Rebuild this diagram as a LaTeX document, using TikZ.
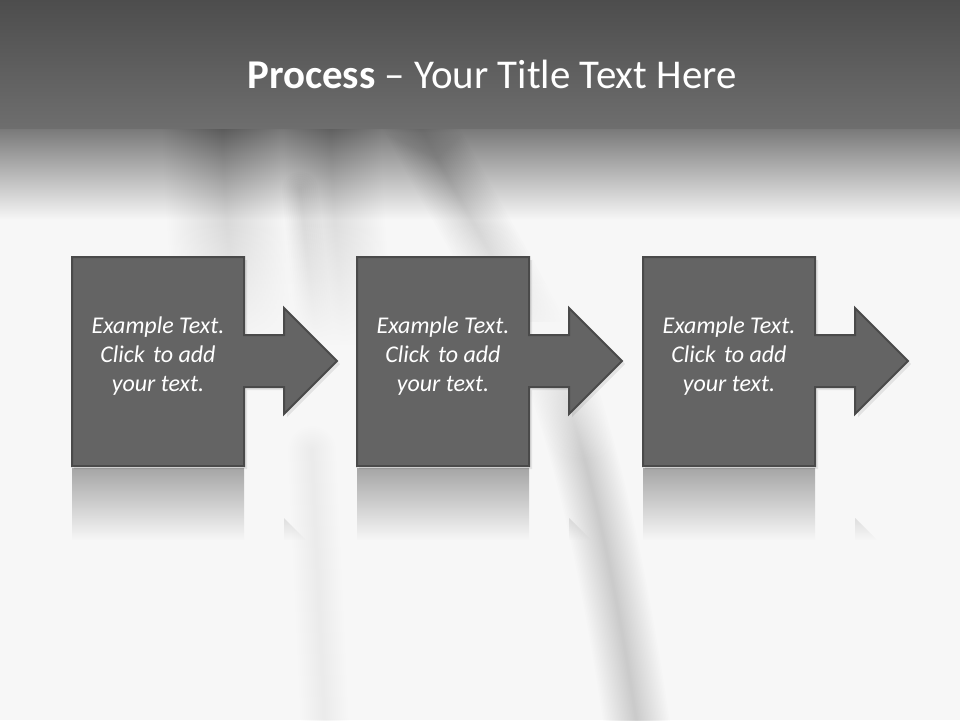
\documentclass[tikz,border=0pt]{standalone}
\usepackage{fontspec}
\setmainfont{Carlito}
\usetikzlibrary{fadings}
\definecolor{bg}{HTML}{F7F7F7}
\definecolor{boxfill}{HTML}{646464}
\definecolor{boxline}{HTML}{4A4A4A}
\definecolor{headtop}{HTML}{4D4D4D}
\definecolor{headbot}{HTML}{6E6E6E}
\definecolor{refltop}{HTML}{A6A6A6}
\tikzfading[name=fadedown, top color=transparent!0, bottom color=transparent!100]
\tikzfading[name=fadeup, top color=transparent!100, bottom color=transparent!0]
\begin{document}
\begin{tikzpicture}[x=1pt,y=-1pt,
  blockshape/.style={fill=boxfill, draw=boxline, line width=2pt, line join=miter},
  bodytext/.style={font=\fontsize{24}{29.3}\selectfont\itshape, align=center, inner sep=0pt, text=white},
  titletext/.style={font=\fontsize{40.9}{48}\selectfont, text=white, inner sep=0pt, anchor=base},
  streak/.style={line cap=round, draw=black}]
\useasboundingbox (0,0) rectangle (960,720);
\fill[bg] (0,0) rectangle (960,720);
% header fade
\shade[top color=headbot!95!white, bottom color=bg] (0,126) rectangle (960,220);
% broad blurred gray region under the header
\foreach \w in {4,8,...,120}
  \draw[streak, opacity=0.0035, line width=\w pt] (222,110) .. controls (224,200) and (230,260) .. (236,340);
\foreach \w in {4,8,...,100}
  \draw[streak, opacity=0.004, line width=\w pt] (330,110) .. controls (332,200) and (338,260) .. (344,340);
\foreach \w in {4,8,...,36}
  \draw[streak, opacity=0.006, line width=\w pt] (300,190) -- (316,340);
% diagonal band, upper part
\foreach \w in {4,8,...,68}
  \draw[streak, opacity=0.006, line width=\w pt] (412,110) .. controls (452,190) and (497,260) .. (542,350);
% let the upper region die away
\fill[bg, path fading=fadeup] (90,222) rectangle (600,345);
\fill[bg] (90,345) rectangle (600,400);
% main streak, lower part
\foreach \w in {3,6,...,66}
  \draw[streak, opacity=0.009, line width=\w pt] (556,365) .. controls (584,450) and (610,540) .. (640,745);
\fill[bg, path fading=fadedown] (490,322) rectangle (690,460);
% faint streak on the lower left
\foreach \w in {4,8,...,48}
  \draw[streak, opacity=0.003, line width=\w pt] (312,450) .. controls (316,540) and (320,620) .. (325,730);
% header band
\shade[top color=headtop, bottom color=headbot] (0,0) rectangle (960,128);
\node[titletext] (title) at (492,88) {\textbf{Process} – Your Title Text Here};
% blocks
\foreach \dx/\i in {0/1,285/2,571/3}{
  \begin{scope}[xshift=\dx pt]
    % reflection
    \begin{scope}
      \clip (72,468) -- (244,468) -- (244,545) -- (284,545) -- (284,518) -- (337,571) -- (284,624) -- (244,624) -- (244,675) -- (72,675) -- cycle;
      \fill[refltop, path fading=fadedown] (72,468) rectangle (340,540);
    \end{scope}
    % soft shadow
    \fill[black, opacity=0.08] (74,260) -- (247,260) -- (247,338) -- (287,338) -- (287,311) -- (340,364) -- (287,417) -- (287,390) -- (247,390) -- (247,469) -- (74,469) -- cycle;
    \draw[blockshape] (72,257) -- (244,257) -- (244,335) -- (284,335) -- (284,308) -- (337,361) -- (284,414) -- (284,387) -- (244,387) -- (244,466) -- (72,466) -- cycle;
    \node[bodytext] (t\i) at (158,356) {Example Text.\\Click\hspace{0.12em} to add\\your text.};
  \end{scope}
}
\end{tikzpicture}
\end{document}
